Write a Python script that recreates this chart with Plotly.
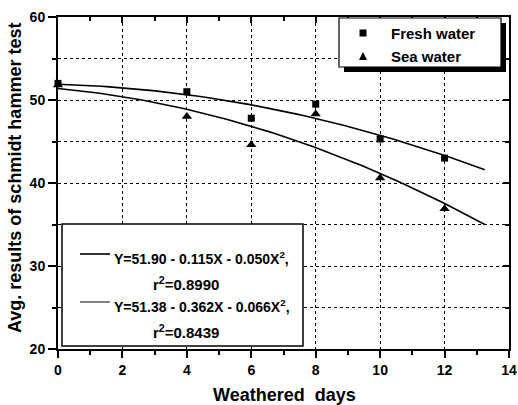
import numpy as np
import plotly.graph_objects as go

# Measured averages of the Schmidt hammer test
days = [0, 4, 6, 8, 10, 12]
fresh_water = [52.0, 51.0, 47.8, 49.5, 45.3, 43.0]
sea_water = [51.8, 48.0, 44.6, 48.3, 40.6, 36.9]

# Quadratic regression: (intercept, linear, quadratic, r^2)
fresh_fit = (51.90, -0.115, -0.050, 0.8990)
sea_fit = (51.38, -0.362, -0.066, 0.8439)
fit_end = 13.25

x_ticks = [0, 2, 4, 6, 8, 10, 12, 14]
y_ticks = [20, 30, 40, 50, 60]

FONT = "Liberation Sans, Arial, sans-serif"
W, H = 518, 405
ML, MR, MT, MB = 58, 9, 17, 56
PW, PH = W - ML - MR, H - MT - MB


def fx(px):
    """Pixel column -> paper x."""
    return (px - ML) / PW


def fy(py):
    """Pixel row -> paper y."""
    return (H - MB - py) / PH


def fit_curve(c):
    xs = np.linspace(0, fit_end, 80)
    return xs, c[0] + c[1] * xs + c[2] * xs ** 2


def eq_text(c):
    return (f"Y={c[0]:.2f} - {abs(c[1]):.3f}X - {abs(c[2]):.3f}X<sup>2</sup>,")


fig = go.Figure()

for c in (fresh_fit, sea_fit):
    xs, ys = fit_curve(c)
    fig.add_trace(go.Scatter(x=xs, y=ys, mode="lines",
                             line=dict(color="black", width=1.6),
                             showlegend=False, hoverinfo="skip"))

fig.add_trace(go.Scatter(x=days, y=sea_water, mode="markers", name="Sea water",
                         marker=dict(symbol="triangle-up", size=9, color="black"),
                         cliponaxis=False, showlegend=False))
fig.add_trace(go.Scatter(x=days, y=fresh_water, mode="markers", name="Fresh water",
                         marker=dict(symbol="square", size=7, color="black"),
                         cliponaxis=False, showlegend=False))

# carrier for the inner-tick frame axes
fig.add_trace(go.Scatter(x=[], y=[], xaxis="x2", yaxis="y2", showlegend=False))

grid = dict(showgrid=True, gridcolor="black", gridwidth=1, griddash="dot")
tickfont = dict(family=FONT, size=14, color="black", weight="bold")
title_font = dict(family=FONT, size=18, color="black")

fig.update_layout(
    width=W, height=H,
    margin=dict(l=ML, r=MR, t=MT, b=MB),
    paper_bgcolor="white", plot_bgcolor="white",
    font=dict(family=FONT, color="black"),
    xaxis=dict(range=[0, 14], tickvals=x_ticks, ticks="outside", ticklen=7,
               tickwidth=1.5, tickcolor="black", showline=True, linewidth=2,
               linecolor="black", mirror=True, zeroline=False,
               automargin=False, tickfont=tickfont, **grid,
               minor=dict(dtick=1, ticks="outside", ticklen=4, tickwidth=1.5,
                          tickcolor="black", showgrid=False)),
    yaxis=dict(range=[20, 60], tickvals=y_ticks, ticks="outside", ticklen=8,
               tickwidth=1.5, tickcolor="black", showline=True, linewidth=2,
               linecolor="black", mirror=True, zeroline=False,
               automargin=False, tickfont=tickfont, **grid,
               minor=dict(dtick=5, ticks="outside", ticklen=4, tickwidth=1.5,
                          tickcolor="black", showgrid=True, gridcolor="black",
                          gridwidth=1, griddash="dot")),
    xaxis2=dict(range=[0, 14], overlaying="x", side="top", anchor="y2",
                tickvals=x_ticks, ticks="inside", ticklen=6, tickwidth=1.5,
                tickcolor="black", showticklabels=False, showgrid=False,
                zeroline=False, showline=False, automargin=False,
                minor=dict(dtick=1, ticks="inside", ticklen=4, tickwidth=1.5,
                           tickcolor="black")),
    yaxis2=dict(range=[20, 60], overlaying="y", side="right", anchor="x2",
                tickvals=y_ticks, ticks="inside", ticklen=6, tickwidth=1.5,
                tickcolor="black", showticklabels=False, showgrid=False,
                zeroline=False, showline=False, automargin=False,
                minor=dict(dtick=5, ticks="inside", ticklen=4, tickwidth=1.5,
                           tickcolor="black")),
)

shapes = []
annotations = []

# Axis titles
annotations.append(dict(xref="paper", yref="paper", x=fx(284), y=fy(395),
                        xanchor="center", yanchor="middle", showarrow=False,
                        text="<b>Weathered\u00a0 days</b>", font=title_font))
annotations.append(dict(xref="paper", yref="paper", x=fx(15), y=fy(178),
                        xanchor="center", yanchor="middle", showarrow=False,
                        textangle=-90,
                        text="<b>Avg. results of schmidt hammer test</b>",
                        font=title_font))

# Series key, upper right, with drop shadow
shapes.append(dict(type="rect", xref="paper", yref="paper",
                   x0=fx(344), x1=fx(506), y0=fy(72), y1=fy(23),
                   fillcolor="black", line=dict(width=0)))
shapes.append(dict(type="rect", xref="paper", yref="paper",
                   x0=fx(339), x1=fx(501), y0=fy(67), y1=fy(18),
                   fillcolor="white", line=dict(color="black", width=1.2)))
shapes.append(dict(type="rect", xref="paper", yref="paper",
                   x0=fx(359.5), x1=fx(366.5), y0=fy(36.5), y1=fy(29.5),
                   fillcolor="black", line=dict(width=0)))
shapes.append(dict(type="path", xref="paper", yref="paper",
                   path=(f"M {fx(359)} {fy(60)} L {fx(367)} {fy(60)} "
                         f"L {fx(363)} {fy(52)} Z"),
                   fillcolor="black", line=dict(width=0)))
for label, row in (("Fresh water", 33), ("Sea water", 56)):
    annotations.append(dict(xref="paper", yref="paper", x=fx(389), y=fy(row),
                            xanchor="left", yanchor="middle", showarrow=False,
                            text=f"<b>{label}</b>",
                            font=dict(family=FONT, size=15, color="black")))

# Regression key, lower left
shapes.append(dict(type="rect", xref="paper", yref="paper",
                   x0=fx(62), x1=fx(303), y0=fy(346), y1=fy(224),
                   fillcolor="white", line=dict(color="black", width=1.5)))
for c, row, lw, col in ((fresh_fit, 254, 1.6, "black"),
                        (sea_fit, 302, 1.2, "#333333")):
    shapes.append(dict(type="line", xref="paper", yref="paper",
                       x0=fx(80), x1=fx(110), y0=fy(row), y1=fy(row),
                       line=dict(color=col, width=lw)))
    annotations.append(dict(xref="paper", yref="paper", x=fx(112),
                            y=fy(row + 4), xanchor="left", yanchor="middle",
                            showarrow=False, text=f"<b>{eq_text(c)}</b>",
                            font=dict(family=FONT, size=14, color="black")))
    annotations.append(dict(xref="paper", yref="paper", x=fx(186),
                            y=fy(row + 29), xanchor="center",
                            yanchor="middle", showarrow=False,
                            text=f"<b>r<sup>2</sup>={c[3]:.4f}</b>",
                            font=dict(family=FONT, size=15, color="black")))

fig.update_layout(shapes=shapes, annotations=annotations)

fig.write_html("out.html")
